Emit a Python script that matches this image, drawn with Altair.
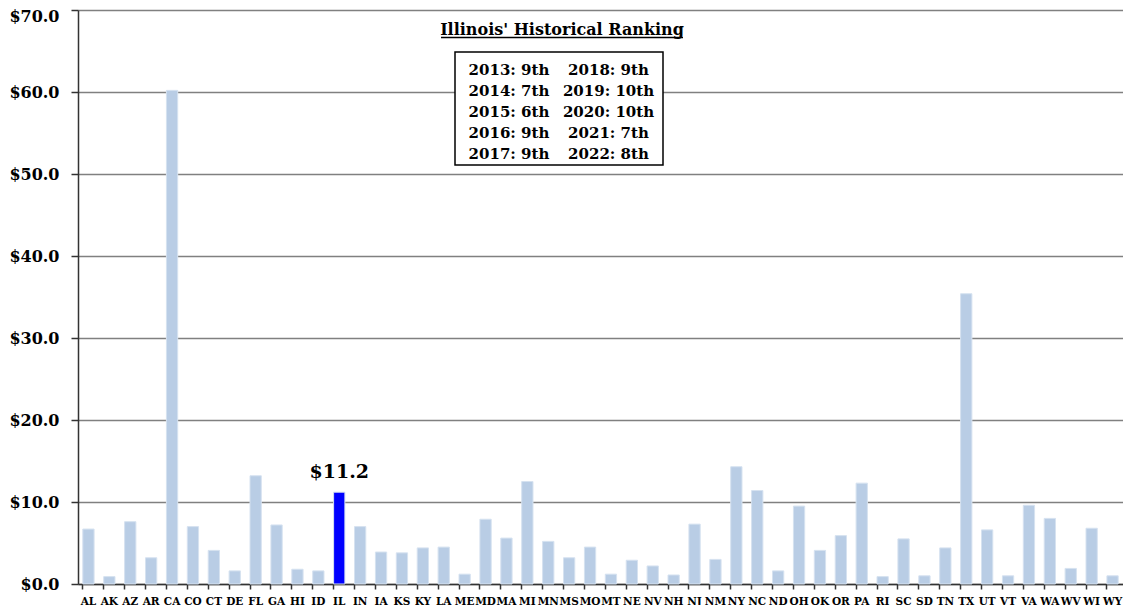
import altair as alt
import pandas as pd

states = ["AL", "AK", "AZ", "AR", "CA", "CO", "CT", "DE", "FL", "GA", "HI", "ID", "IL",
          "IN", "IA", "KS", "KY", "LA", "ME", "MD", "MA", "MI", "MN", "MS", "MO", "MT",
          "NE", "NV", "NH", "NJ", "NM", "NY", "NC", "ND", "OH", "OK", "OR", "PA", "RI",
          "SC", "SD", "TN", "TX", "UT", "VT", "VA", "WA", "WV", "WI", "WY"]
values = [6.7, 0.9, 7.6, 3.2, 60.2, 7.0, 4.1, 1.6, 13.2, 7.2, 1.8, 1.6, 11.2,
          7.0, 3.9, 3.8, 4.4, 4.5, 1.2, 7.9, 5.6, 12.5, 5.2, 3.2, 4.5, 1.2,
          2.9, 2.2, 1.1, 7.3, 3.0, 14.3, 11.4, 1.6, 9.5, 4.1, 5.9, 12.3, 0.9,
          5.5, 1.0, 4.4, 35.4, 6.6, 1.0, 9.6, 8.0, 1.9, 6.8, 1.0]
highlight = "IL"

years_left = [2013, 2014, 2015, 2016, 2017]
ranks_left = ["9th", "7th", "6th", "9th", "9th"]
years_right = [2018, 2019, 2020, 2021, 2022]
ranks_right = ["9th", "10th", "10th", "7th", "8th"]
box_title = "Illinois' Historical Ranking"

df = pd.DataFrame({"state": states, "value": values})
FONT = "DejaVu Serif"

bars = alt.Chart(df).mark_bar(stroke="#D6E2F0", strokeWidth=1).encode(
    x=alt.X("state:N", sort=states,
            scale=alt.Scale(paddingInner=0.46, paddingOuter=0.23),
            axis=alt.Axis(title=None, labelAngle=0, labelFont=FONT, labelFontSize=10.5,
                          labelFontWeight="bold", labelColor="black", bandPosition=0,
                          tickSize=5, tickColor="#333333", tickWidth=1.5,
                          domainColor="#333333", domainWidth=1.5, labelPadding=7,
                          grid=False)),
    y=alt.Y("value:Q", scale=alt.Scale(domain=[0, 70], nice=False),
            axis=alt.Axis(title=None, values=list(range(0, 71, 10)), format="$.1f",
                          labelFont=FONT, labelFontSize=16, labelFontWeight="bold",
                          labelColor="black", gridColor="#808080", gridWidth=1.5,
                          tickSize=7, tickColor="#333333", tickWidth=1.5,
                          domainColor="#333333", domainWidth=1.5, labelPadding=12,
                          labelOffset=alt.expr("datum.value == 70 ? 6 : 0"))),
    color=alt.condition(alt.datum.state == highlight, alt.value("#0000FF"), alt.value("#B9CDE5")),
)

il_label = alt.Chart(df).transform_filter(alt.datum.state == highlight).mark_text(
    font=FONT, fontSize=19, fontWeight="bold", color="black", dy=-14, baseline="alphabetic"
).encode(
    x=alt.X("state:N", sort=states),
    y="value:Q",
    text=alt.Text("value:Q", format="$.1f"),
)

one = alt.InlineData(values=[{"k": 1}])

box = alt.Chart(one).mark_rect(fill="white", stroke="black", strokeWidth=1.5).encode(
    x=alt.value(377), x2=alt.value(585), y=alt.value(42), y2=alt.value(155)
)

left_lines = [f"{y}: {r}" for y, r in zip(years_left, ranks_left)]
right_lines = [f"{y}: {r}" for y, r in zip(years_right, ranks_right)]

left_text = alt.Chart(one).mark_text(
    text=left_lines, font=FONT, fontSize=15, fontWeight="bold", color="black",
    lineHeight=21, align="center", baseline="alphabetic"
).encode(x=alt.value(431), y=alt.value(65))

right_text = alt.Chart(one).mark_text(
    text=right_lines, font=FONT, fontSize=15, fontWeight="bold", color="black",
    lineHeight=21, align="center", baseline="alphabetic"
).encode(x=alt.value(530.5), y=alt.value(65))

title_text = alt.Chart(one).mark_text(
    text=box_title, font=FONT, fontSize=16, fontWeight="bold", color="black",
    align="center", baseline="alphabetic"
).encode(x=alt.value(484), y=alt.value(25))

underline = alt.Chart(one).mark_rule(color="black", strokeWidth=1.3).encode(
    x=alt.value(363), x2=alt.value(605), y=alt.value(27.5)
)

chart = alt.layer(bars, il_label, box, left_text, right_text, title_text, underline).properties(
    width=1045, height=574,
    padding={"left": 70, "top": 2, "right": 0, "bottom": 21},
    autosize=alt.AutoSizeParams(type="none"),
).configure_view(stroke="#808080", strokeWidth=1.5).configure(font=FONT)

chart.save("out.html", embed_options={"renderer": "svg", "actions": False})
